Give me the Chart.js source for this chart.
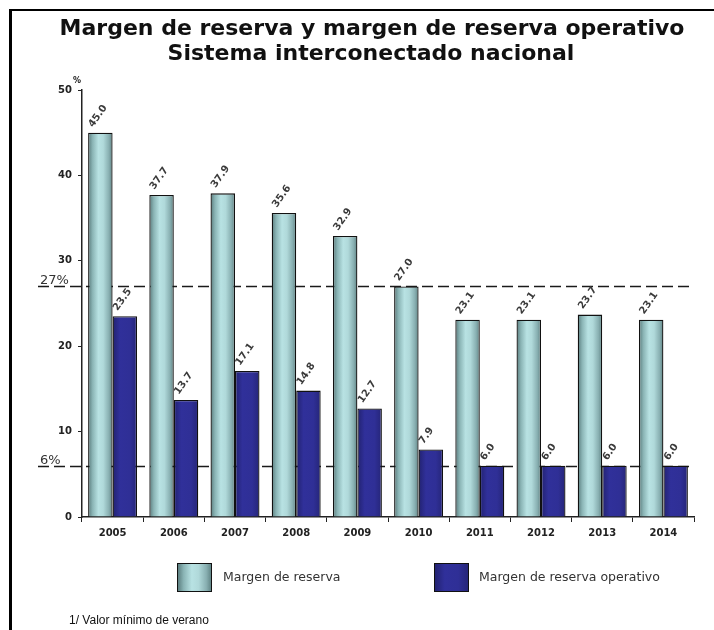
<!DOCTYPE html>
<html><head><meta charset="utf-8">
<script src="https://cdn.jsdelivr.net/npm/chart.js@4/dist/chart.umd.min.js"></script>
<style>html,body{margin:0;padding:0;background:#fff;}#wrap{width:714px;height:630px;}</style>
</head><body><div id="wrap"><canvas id="c" width="714" height="630"></canvas></div>
<script>
const years = ['2005','2006','2007','2008','2009','2010','2011','2012','2013','2014'];
const margenReserva = [45.0, 37.7, 37.9, 35.6, 32.9, 27.0, 23.1, 23.1, 23.7, 23.1];
const margenOperativo = [23.5, 13.7, 17.1, 14.8, 12.7, 7.9, 6.0, 6.0, 6.0, 6.0];
const seriesLabels = ['Margen de reserva', 'Margen de reserva operativo'];
const refValues = [27, 6];
const refLabels = ['27%', '6%'];
const yTicks = [0, 10, 20, 30, 40, 50];
const titleLines = ['Margen de reserva y margen de reserva operativo', 'Sistema interconectado nacional'];
const unitLabel = '%';
const footnote = '1/ Valor mínimo de verano';

const LIGHT_STOPS = [[0,'#587a7b'],[0.18,'#8ab4b5'],[0.42,'#b8e2e3'],[0.62,'#b0d9da'],[0.85,'#88afb1'],[1,'#5e8283']];
const DARK_STOPS = [[0,'#222270'],[0.3,'#30309a'],[0.7,'#2f2f96'],[1,'#252578']];

function makeGrad(ctx, x0, x1, stops) {
  const g = ctx.createLinearGradient(x0, 0, x1, 0);
  stops.forEach(s => g.addColorStop(s[0], s[1]));
  return g;
}
const CAT_PCT = 0.8;
function barGradient(stops, dsIndex) {
  return function(c) {
    const chart = c.chart;
    const xs = chart.scales.x;
    if (!xs || !chart.chartArea || c.dataIndex === undefined) return stops[2][1];
    const center = xs.getPixelForValue(c.dataIndex);
    const catW = (xs.right - xs.left) / years.length;
    const bw = catW * CAT_PCT / 2;
    const left = center - bw + dsIndex * bw;
    return makeGrad(chart.ctx, left, left + bw, stops);
  };
}

const decor = {
  id: 'decor',
  beforeDraw(chart) {
    const ctx = chart.ctx;
    ctx.save();
    ctx.fillStyle = '#fff';
    ctx.fillRect(0, 0, chart.width, chart.height);
    ctx.restore();
  },
  beforeDatasetsDraw(chart) {
    const ctx = chart.ctx, ys = chart.scales.y, ca = chart.chartArea;
    ctx.save();
    ctx.strokeStyle = '#1a1a1a';
    ctx.lineWidth = 1.5;
    ctx.setLineDash([11, 5]);
    refValues.forEach((v) => {
      const y = Math.round(ys.getPixelForValue(v)) + 0.5;
      ctx.beginPath();
      ctx.moveTo(38, y);
      ctx.lineTo(ca.right, y);
      ctx.stroke();
    });
    ctx.setLineDash([]);
    ctx.fillStyle = '#333';
    ctx.font = '13px "DejaVu Sans"';
    ctx.textBaseline = 'alphabetic';
    ctx.textAlign = 'left';
    refValues.forEach((v, i) => {
      const y = ys.getPixelForValue(v);
      ctx.fillText(refLabels[i], 40, y - 2);
    });
    ctx.restore();
  },
  afterDatasetsDraw(chart) {
    const ctx = chart.ctx;
    ctx.save();
    ctx.fillStyle = '#3a3a3a';
    ctx.font = 'bold 10px "DejaVu Sans"';
    ctx.textAlign = 'left';
    ctx.textBaseline = 'alphabetic';
    chart.data.datasets.forEach((ds, di) => {
      const meta = chart.getDatasetMeta(di);
      meta.data.forEach((el, i) => {
        ctx.save();
        ctx.translate(el.x - el.width / 2 + 5, el.y - 5);
        ctx.rotate(-55 * Math.PI / 180);
        ctx.fillText(ds.data[i].toFixed(1), 0, 0);
        ctx.restore();
      });
    });
    ctx.restore();
  },
  afterDraw(chart) {
    const ctx = chart.ctx;
    ctx.save();
    ctx.fillStyle = '#111';
    ctx.font = 'bold 22px "DejaVu Sans"';
    ctx.textAlign = 'center';
    ctx.textBaseline = 'alphabetic';
    ctx.fillText(titleLines[0], 372, 35);
    ctx.fillText(titleLines[1], 371, 60);
    ctx.font = 'bold 8px "DejaVu Sans"';
    ctx.textAlign = 'left';
    ctx.fillText(unitLabel, 73, 83);
    const items = [[177, 223, LIGHT_STOPS], [434, 479, DARK_STOPS]];
    ctx.font = '12.5px "DejaVu Sans"';
    ctx.textBaseline = 'middle';
    items.forEach((it, i) => {
      const bx = it[0] + 0.5, by = 563.5, bw = 34, bh = 28;
      ctx.fillStyle = makeGrad(ctx, bx, bx + bw, it[2]);
      ctx.fillRect(bx, by, bw, bh);
      ctx.strokeStyle = '#111';
      ctx.lineWidth = 1;
      ctx.strokeRect(bx, by, bw, bh);
      ctx.fillStyle = '#333';
      ctx.fillText(seriesLabels[i], it[1], by + bh / 2);
    });
    ctx.fillStyle = '#111';
    ctx.font = '12px "Liberation Sans"';
    ctx.textBaseline = 'middle';
    ctx.fillText(footnote, 69, 621);
    ctx.fillStyle = '#000';
    ctx.fillRect(9, 9, 3, chart.height - 9);
    ctx.fillRect(9, 9, chart.width - 9, 2);
    ctx.restore();
  }
};

new Chart(document.getElementById('c'), {
  type: 'bar',
  data: {
    labels: years,
    datasets: [
      { label: seriesLabels[0], data: margenReserva, backgroundColor: barGradient(LIGHT_STOPS, 0),
        borderColor: '#111', borderWidth: 1.3, categoryPercentage: CAT_PCT, barPercentage: 1.0 },
      { label: seriesLabels[1], data: margenOperativo, backgroundColor: barGradient(DARK_STOPS, 1),
        borderColor: '#111', borderWidth: 1.3, categoryPercentage: CAT_PCT, barPercentage: 1.0 }
    ]
  },
  options: {
    responsive: false,
    animation: false,
    devicePixelRatio: 1,
    layout: { padding: { top: 90, left: 0, right: 20, bottom: 0 } },
    plugins: { legend: { display: false }, title: { display: false }, tooltip: { enabled: false } },
    scales: {
      x: {
        grid: { display: true, drawOnChartArea: false, drawTicks: true, tickLength: 5, color: '#222', offset: true },
        border: { display: true, color: '#222', width: 1.5 },
        ticks: { color: '#222', font: { family: 'DejaVu Sans', size: 10, weight: 'bold' }, padding: 5, maxRotation: 0 },
        afterFit: s => { s.height = 113; }
      },
      y: {
        min: 0, max: 50,
        afterBuildTicks: s => { s.ticks = yTicks.map(v => ({ value: v })); },
        grid: { display: true, drawOnChartArea: false, drawTicks: true, tickLength: 4, color: '#222' },
        border: { display: true, color: '#222', width: 1.5 },
        ticks: { color: '#222', font: { family: 'DejaVu Sans', size: 10, weight: 'bold' }, padding: 6 },
        afterFit: s => { s.width = 82; }
      }
    }
  },
  plugins: [decor]
});
</script></body></html>
